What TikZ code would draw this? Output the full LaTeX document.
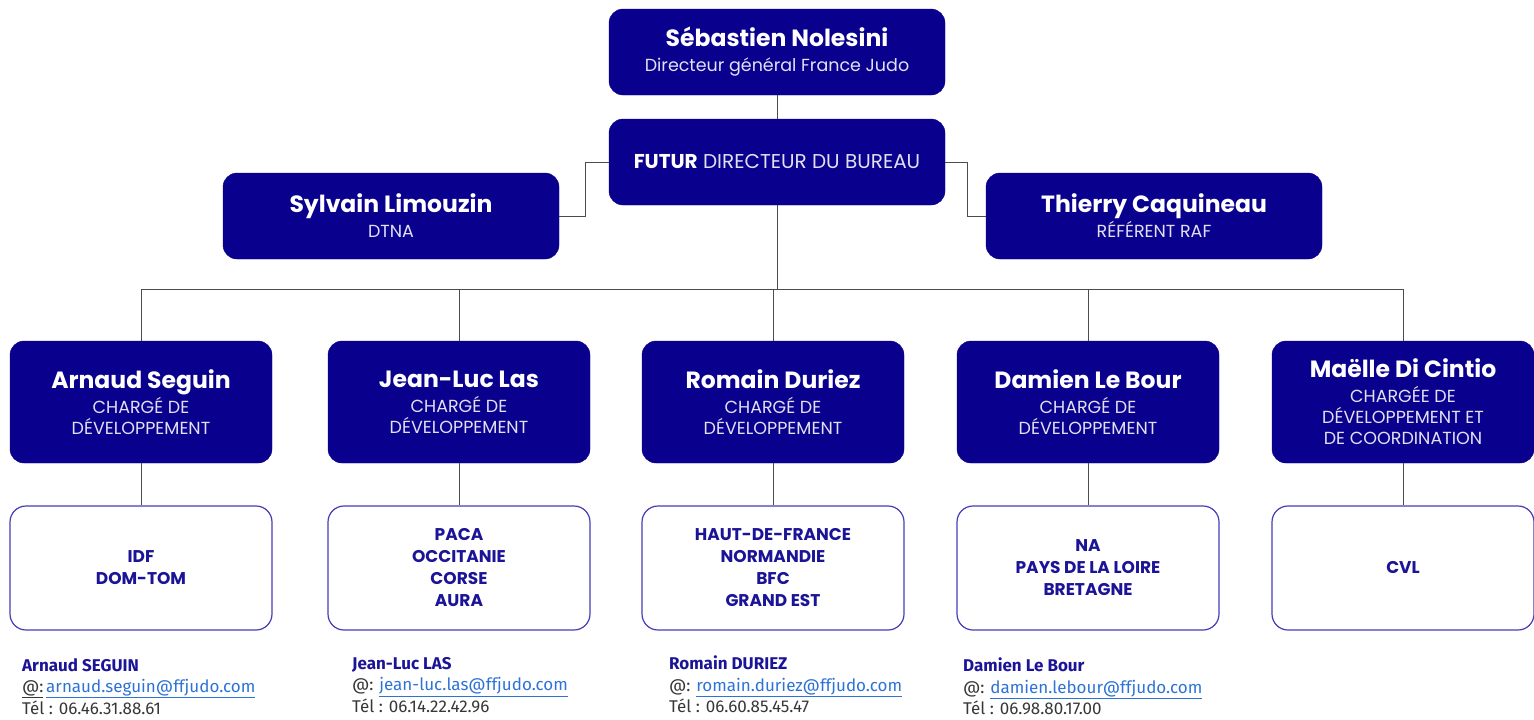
\documentclass[tikz,border=0pt]{standalone}
\usepackage{fontspec}
\setmainfont{Poppins}
\newfontfamily\contactfont{Fira Sans}
\usetikzlibrary{positioning}

\definecolor{judoblue}{RGB}{10,0,142}
\definecolor{areablue}{RGB}{28,20,150}
\definecolor{arealine}{RGB}{70,60,185}
\definecolor{subgray}{RGB}{225,225,242}
\definecolor{linkblue}{RGB}{45,115,215}
\definecolor{telgray}{RGB}{55,55,55}

\newcommand{\tightlines}{\lineskiplimit=-20pt\relax}
\tikzset{
  headbox/.style={fill=judoblue, draw=judoblue, rounded corners=14pt,
    text=subgray, align=center, inner sep=0pt,
    minimum width=262pt, minimum height=122pt,
    font=\fontsize{17.5}{21}\selectfont\tightlines},
  bighead/.style={headbox, minimum width=336pt, minimum height=86pt},
  areabox/.style={fill=white, draw=arealine, line width=1.2pt,
    rounded corners=16pt, text=areablue, align=center, inner sep=0pt,
    minimum width=262pt, minimum height=124pt,
    font=\fontsize{17}{22}\selectfont\bfseries},
  contact/.style={anchor=north west, align=left, inner sep=0pt,
    text=telgray, font=\contactfont\fontsize{17}{21.5}\selectfont},
  link/.style={draw=black!70, line width=1pt},
}
\newcommand{\who}[1]{{\fontsize{23.5}{26}\selectfont\bfseries\color{white}#1}\\[4pt]}
\newcommand{\mail}[1]{\textcolor{linkblue}{\underline{#1}}}

\begin{document}
\begin{tikzpicture}[x=1pt, y=-1pt]
  \useasboundingbox (0,0) rectangle (1534,720);

  % direction:
  \node[bighead] (nolesini) at (777,52)
    {\who{Sébastien Nolesini}Directeur général France Judo};
  \node[bighead, font=\fontsize{20}{24}\selectfont] (futur) at (777,162)
    {\textcolor{white}{\bfseries FUTUR} DIRECTEUR DU BUREAU};
  \node[bighead] (limouzin) at (391,216)
    {\who{Sylvain Limouzin}DTNA};
  \node[bighead] (caquineau) at (1154,216)
    {\who{Thierry Caquineau}RÉFÉRENT RAF};

  % charges de developpement:
  \node[headbox] (seguin) at (141,402)
    {\who{Arnaud Seguin}CHARGÉ DE\\DÉVELOPPEMENT};
  \node[headbox] (las) at (459,402)
    {\who{Jean-Luc Las}CHARGÉ DE\\DÉVELOPPEMENT};
  \node[headbox] (duriez) at (773,402)
    {\who{Romain Duriez}CHARGÉ DE\\DÉVELOPPEMENT};
  \node[headbox] (lebour) at (1088,402)
    {\who{Damien Le Bour}CHARGÉ DE\\DÉVELOPPEMENT};
  \node[headbox] (dicintio) at (1403,402)
    {\who{Maëlle Di Cintio}CHARGÉE DE\\DÉVELOPPEMENT ET\\DE COORDINATION};

  % regions:
  \node[areabox] (seguinzone) at (141,568) {IDF\\DOM-TOM};
  \node[areabox] (laszone) at (459,568) {PACA\\OCCITANIE\\CORSE\\AURA};
  \node[areabox] (duriezzone) at (773,568) {HAUT-DE-FRANCE\\NORMANDIE\\BFC\\GRAND EST};
  \node[areabox] (lebourzone) at (1088,568) {NA\\PAYS DE LA LOIRE\\BRETAGNE};
  \node[areabox] (dicintiozone) at (1403,568) {CVL};

  % links:
  \coordinate (bus) at (777,289);
  \draw[link] (nolesini) -- (futur);
  \draw[link] (limouzin.east) -- ++(26,0) |- (futur.west);
  \draw[link] (futur.east) -- ++(22,0) |- (caquineau.west);
  \draw[link] (futur.south) -- (futur.south |- bus);
  \draw[link] (seguin.north |- bus) -- (dicintio.north |- bus);
  \foreach \p in {seguin,las,duriez,lebour,dicintio} {
    \draw[link] (\p.north |- bus) -- (\p.north);
    \draw[link] (\p.south) -- (\p zone.north);
  }

  % contacts:
  \node[contact] (seguininfo) at (22,658)
    {\textcolor{areablue}{\bfseries Arnaud SEGUIN}\\
     \underline{@:}\,\mail{arnaud.seguin@ffjudo.com}\\
     Tél : 06.46.31.88.61};
  \node[contact] (lasinfo) at (352,657)
    {\textcolor{areablue}{\bfseries Jean-Luc LAS}\\
     @: \mail{jean-luc.las@ffjudo.com}\\
     Tél : 06.14.22.42.96};
  \node[contact] (duriezinfo) at (669,656)
    {\textcolor{areablue}{\bfseries Romain DURIEZ}\\
     @: \mail{romain.duriez@ffjudo.com}\\
     Tél : 06.60.85.45.47};
  \node[contact] (lebourinfo) at (963,658)
    {\textcolor{areablue}{\bfseries Damien Le Bour}\\
     @: \mail{damien.lebour@ffjudo.com}\\
     Tél : 06.98.80.17.00};
\end{tikzpicture}
\end{document}
